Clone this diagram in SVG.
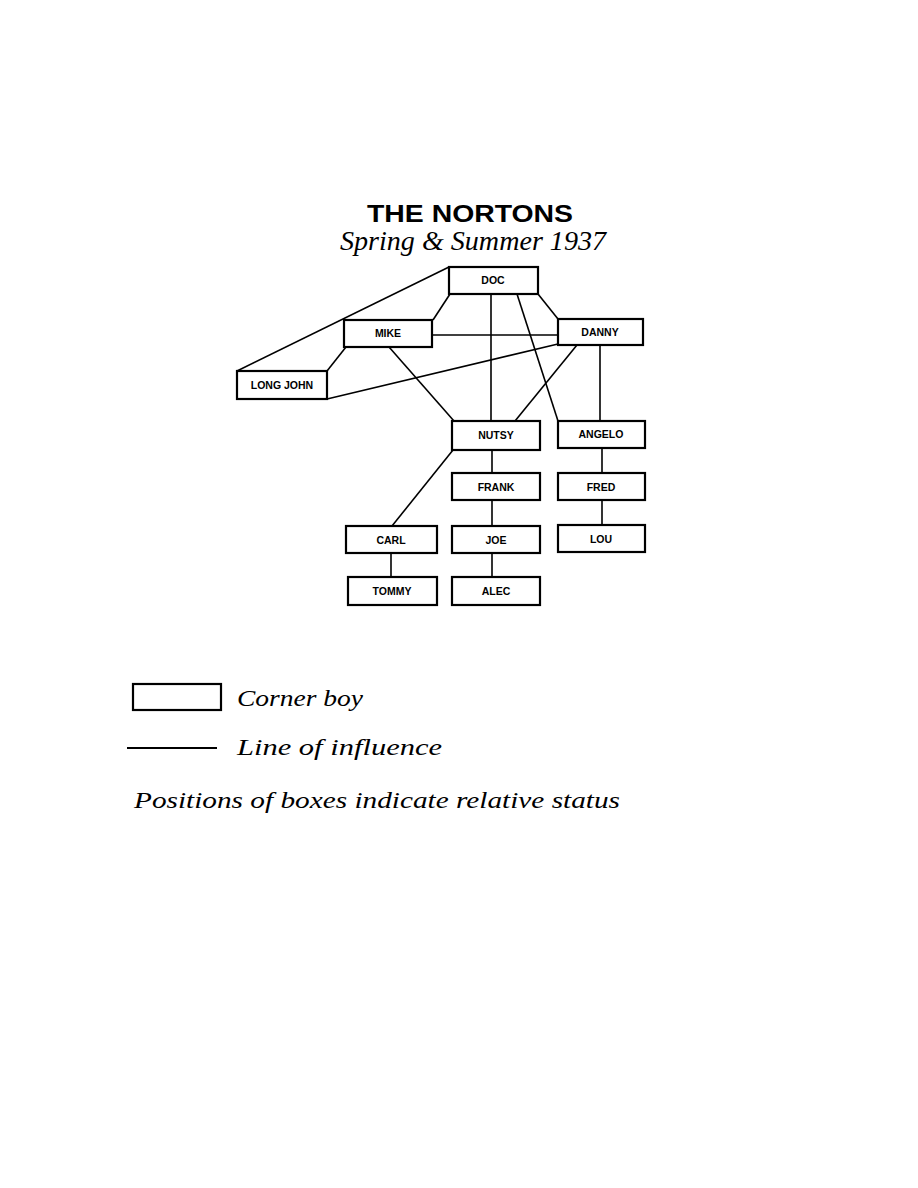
<svg xmlns="http://www.w3.org/2000/svg" width="918" height="1188" viewBox="0 0 918 1188">
<style>
.box{fill:#fff;stroke:#000;stroke-width:2.2}
.lbl{font-family:"Liberation Sans",Arial,sans-serif;font-weight:bold;font-size:10.5px;text-anchor:middle;fill:#000}
.ln{stroke:#000;stroke-width:1.6;fill:none}
.scr{font-family:"Liberation Serif","Times New Roman",serif;font-style:italic;fill:#000}
</style>
<rect width="918" height="1188" fill="#fff"/>
<text x="470" y="222" font-family="Liberation Sans,Arial,sans-serif" font-weight="bold" font-size="24" text-anchor="middle" textLength="206" lengthAdjust="spacingAndGlyphs">THE NORTONS</text>
<text class="scr" x="473" y="250" font-size="27" text-anchor="middle" textLength="266" lengthAdjust="spacingAndGlyphs">Spring &amp; Summer 1937</text>
<g id="connectors">
<line class="ln" x1="449" y1="267" x2="237" y2="371"/>
<line class="ln" x1="450" y1="294" x2="433" y2="320"/>
<line class="ln" x1="538" y1="294" x2="558" y2="319"/>
<line class="ln" x1="491" y1="294" x2="491" y2="421"/>
<line class="ln" x1="517" y1="294" x2="558" y2="421"/>
<line class="ln" x1="432" y1="335" x2="558" y2="335"/>
<line class="ln" x1="346" y1="347" x2="327" y2="371"/>
<line class="ln" x1="327" y1="399" x2="558" y2="344"/>
<line class="ln" x1="389" y1="347" x2="454" y2="421"/>
<line class="ln" x1="577" y1="345" x2="515" y2="421"/>
<line class="ln" x1="600" y1="345" x2="600" y2="421"/>
<line class="ln" x1="492" y1="450" x2="492" y2="473"/>
<line class="ln" x1="602" y1="448" x2="602" y2="473"/>
<line class="ln" x1="453" y1="450" x2="392" y2="526"/>
<line class="ln" x1="391" y1="553" x2="391" y2="577"/>
<line class="ln" x1="492" y1="500" x2="492" y2="526"/>
<line class="ln" x1="492" y1="553" x2="492" y2="577"/>
<line class="ln" x1="602" y1="500" x2="602" y2="525"/>
</g>
<g id="doc"><rect class="box" x="449" y="267" width="89" height="27"/><text class="lbl" x="493" y="284">DOC</text></g>
<g id="mike"><rect class="box" x="344" y="320" width="88" height="27"/><text class="lbl" x="388" y="337">MIKE</text></g>
<g id="danny"><rect class="box" x="558" y="319" width="85" height="26"/><text class="lbl" x="600" y="336">DANNY</text></g>
<g id="longjohn"><rect class="box" x="237" y="371" width="90" height="28"/><text class="lbl" x="282" y="389" font-size="9.5">LONG JOHN</text></g>
<g id="nutsy"><rect class="box" x="452" y="421" width="88" height="29"/><text class="lbl" x="496" y="439">NUTSY</text></g>
<g id="angelo"><rect class="box" x="558" y="421" width="87" height="27"/><text class="lbl" x="601" y="438">ANGELO</text></g>
<g id="frank"><rect class="box" x="452" y="473" width="88" height="27"/><text class="lbl" x="496" y="491">FRANK</text></g>
<g id="fred"><rect class="box" x="558" y="473" width="87" height="27"/><text class="lbl" x="601" y="491">FRED</text></g>
<g id="carl"><rect class="box" x="346" y="526" width="91" height="27"/><text class="lbl" x="391" y="544">CARL</text></g>
<g id="joe"><rect class="box" x="452" y="526" width="88" height="27"/><text class="lbl" x="496" y="544">JOE</text></g>
<g id="lou"><rect class="box" x="558" y="525" width="87" height="27"/><text class="lbl" x="601" y="543">LOU</text></g>
<g id="tommy"><rect class="box" x="348" y="577" width="89" height="28"/><text class="lbl" x="392" y="595">TOMMY</text></g>
<g id="alec"><rect class="box" x="452" y="577" width="88" height="28"/><text class="lbl" x="496" y="595">ALEC</text></g>
<g id="legend">
<rect class="box" x="133" y="684" width="88" height="26"/>
<text class="scr" x="237" y="706" font-size="24" textLength="126" lengthAdjust="spacingAndGlyphs">Corner boy</text>
<line x1="127" y1="748" x2="217" y2="748" stroke="#000" stroke-width="2"/>
<text class="scr" x="237" y="755" font-size="24" textLength="205" lengthAdjust="spacingAndGlyphs">Line of influence</text>
<text class="scr" x="134" y="808" font-size="24" textLength="486" lengthAdjust="spacingAndGlyphs">Positions of boxes indicate relative status</text>
</g>
</svg>
